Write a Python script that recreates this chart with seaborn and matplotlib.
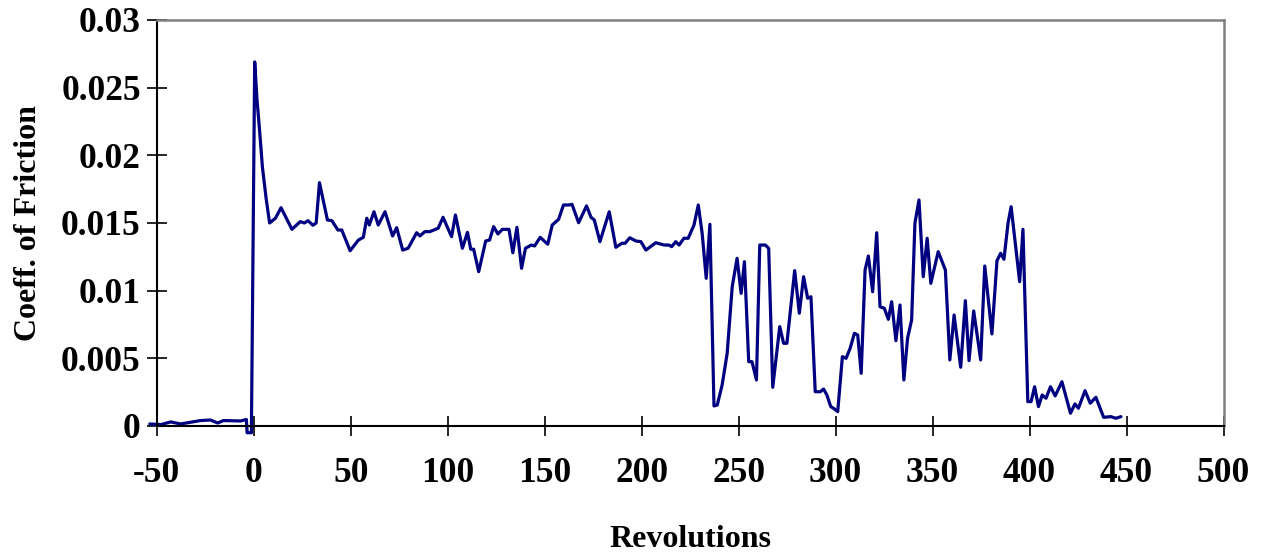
import pandas as pd
import matplotlib.pyplot as plt
import seaborn as sns

# revolutions (x) and friction coefficient (y)
revs = [-53.6, -47.9, -42.8, -37.7, -27.4, -22.3, -18.6, -15.6, -6.8, -3.8, -3.4, -1.2,
        0.5, 1.7, 3.1, 4.5, 6.5, 8.2, 11.2, 14.1, 19.7, 24.0, 26.1, 28.0, 30.5, 32.2,
        33.9, 38.0, 40.3, 43.4, 45.4, 49.7, 54.0, 56.5, 58.3, 59.6, 62.0, 64.2, 67.7,
        71.6, 73.7, 76.8, 79.6, 84.0, 85.7, 88.2, 90.8, 95.1, 97.6, 102.0, 104.0, 107.6,
        110.2, 111.9, 113.4, 116.0, 119.6, 121.6, 123.7, 125.9, 128.2, 131.6, 133.6,
        135.7, 138.1, 140.1, 143.1, 144.8, 147.7, 151.6, 153.9, 157.2, 159.7, 162.7,
        164.1, 167.5, 171.6, 173.9, 175.6, 178.5, 183.3, 186.7, 189.8, 191.5, 193.9,
        197.0, 199.6, 202.2, 207.3, 211.6, 214.1, 215.5, 217.6, 219.3, 221.8, 224.0,
        227.0, 229.2, 231.2, 233.3, 235.2, 237.3, 239.0, 241.5, 244.1, 246.7, 249.2,
        251.3, 253.0, 255.2, 256.9, 259.2, 260.9, 263.8, 265.5, 267.6, 271.2, 273.2,
        274.9, 278.9, 281.3, 283.5, 285.6, 287.3, 289.5, 292.1, 293.8, 295.5, 297.5,
        298.9, 301.1, 303.5, 305.4, 307.5, 309.7, 311.4, 313.2, 315.2, 316.9, 319.1,
        321.2, 322.9, 325.1, 327.2, 328.9, 331.1, 333.2, 335.2, 337.1, 339.2, 340.9,
        343.0, 345.2, 347.2, 349.1, 352.9, 356.6, 358.9, 361.1, 364.5, 366.9, 368.8,
        371.2, 374.8, 376.9, 380.6, 383.2, 385.1, 386.8, 388.9, 390.5, 394.9, 396.6,
        399.1, 400.8, 402.6, 404.6, 406.5, 408.5, 410.8, 413.2, 416.7, 421.1, 423.4,
        425.2, 428.6, 431.3, 434.2, 438.2, 441.9, 444.5, 447.1]
cof = [0.00015, 0.0001, 0.0003, 0.00015, 0.0004, 0.00044, 0.00022, 0.0004, 0.00037,
       0.00048, -0.0005, -0.0005,
       0.0269, 0.0241, 0.0217, 0.0191, 0.0167, 0.0150, 0.01535, 0.01613, 0.01453,
       0.0151, 0.0150, 0.01517, 0.01483, 0.0150, 0.01798, 0.01522, 0.01517, 0.01448,
       0.01448, 0.01295, 0.01374, 0.01394, 0.01535, 0.01485, 0.01583, 0.01485, 0.01583,
       0.01404, 0.01465, 0.0130, 0.01313, 0.01428, 0.01404, 0.01436, 0.01436, 0.01461,
       0.01542, 0.01399, 0.01559, 0.01313, 0.01431, 0.01306, 0.01306, 0.0114, 0.01367,
       0.01374, 0.01473, 0.01419, 0.01453, 0.01453, 0.0128, 0.01468, 0.01165, 0.01313,
       0.01337, 0.0133, 0.01394, 0.01343, 0.01485, 0.01527, 0.01633, 0.01633, 0.01638,
       0.01502, 0.01626, 0.01542, 0.01522, 0.01362, 0.01583, 0.0132, 0.0135, 0.0135,
       0.01391, 0.01367, 0.01362, 0.0130, 0.01354, 0.01337, 0.01337, 0.01325, 0.01362,
       0.01337, 0.01387, 0.01387, 0.01485, 0.01633, 0.01424, 0.01091, 0.0149, 0.00148,
       0.00155, 0.00303, 0.00537, 0.01029, 0.01239, 0.0098, 0.01214, 0.00475, 0.00475,
       0.0034, 0.01337, 0.01337, 0.01313, 0.00286, 0.00734, 0.00611, 0.00611, 0.01148,
       0.00833, 0.01103, 0.00944, 0.00955, 0.00253, 0.00253, 0.00273, 0.00229, 0.00143,
       0.00131, 0.00106, 0.00512, 0.0050, 0.00574, 0.00685, 0.00672, 0.00389, 0.01153,
       0.01256, 0.00992, 0.01428, 0.00881, 0.0087, 0.00788, 0.00918, 0.0063, 0.00894,
       0.0034, 0.00648, 0.00783, 0.01498, 0.0167, 0.01103, 0.01387, 0.01054, 0.01288,
       0.01153, 0.00488, 0.0082, 0.00434, 0.00926, 0.00483, 0.0085, 0.00488, 0.01182,
       0.0068, 0.01221, 0.01276, 0.01232, 0.01498, 0.0162, 0.01066, 0.01453, 0.0018,
       0.0018, 0.0029, 0.00143, 0.00229, 0.00205, 0.0029, 0.00222, 0.00327, 0.00094,
       0.00163, 0.00131, 0.00261, 0.00168, 0.00212, 0.00064, 0.00069, 0.00057, 0.00069]

xticks = list(range(-50, 501, 50))
yticks = [0, 0.005, 0.01, 0.015, 0.02, 0.025, 0.03]
ytick_labels = ['0', '0.005', '0.01', '0.015', '0.02', '0.025', '0.03']

df = pd.DataFrame({'Revolutions': revs, 'cof': cof})

sns.set_style('white')
plt.rcParams['font.family'] = ['Liberation Serif', 'DejaVu Serif']
plt.rcParams['font.weight'] = 'bold'
plt.rcParams['text.color'] = 'black'
plt.rcParams['axes.labelcolor'] = 'black'
plt.rcParams['xtick.color'] = 'black'
plt.rcParams['ytick.color'] = 'black'

fig = plt.figure(figsize=(12.62, 5.58), dpi=100)
ax = fig.add_axes([0.1242, 0.2366, 0.8453, 0.7276])

sns.lineplot(x='Revolutions', y='cof', data=df, ax=ax, color='#000080',
             linewidth=2.3, sort=False, estimator=None, clip_on=False)

ax.set_xlim(-50, 500)
ax.set_ylim(0, 0.03)
ax.set_xticks(xticks)
ax.set_xticklabels([str(t) for t in xticks])
ax.set_yticks(yticks)
ax.set_yticklabels(ytick_labels)

for side in ['left', 'bottom']:
    ax.spines[side].set_color('black')
    ax.spines[side].set_linewidth(1.5)
for side in ['top', 'right']:
    ax.spines[side].set_color('#808080')
    ax.spines[side].set_linewidth(1.8)

ax.tick_params(axis='both', direction='inout', length=15, width=1.2, color='black',
               labelcolor='black', labelsize=25.5, left=True, bottom=True)
ax.tick_params(axis='x', pad=15)
ax.tick_params(axis='y', pad=4)

ax.set_xlabel('Revolutions', fontsize=23, fontweight='bold', labelpad=25)
ax.set_ylabel('Coeff. of Friction', fontsize=23, fontweight='bold', labelpad=13)

fig.savefig('out.png', dpi=100)
